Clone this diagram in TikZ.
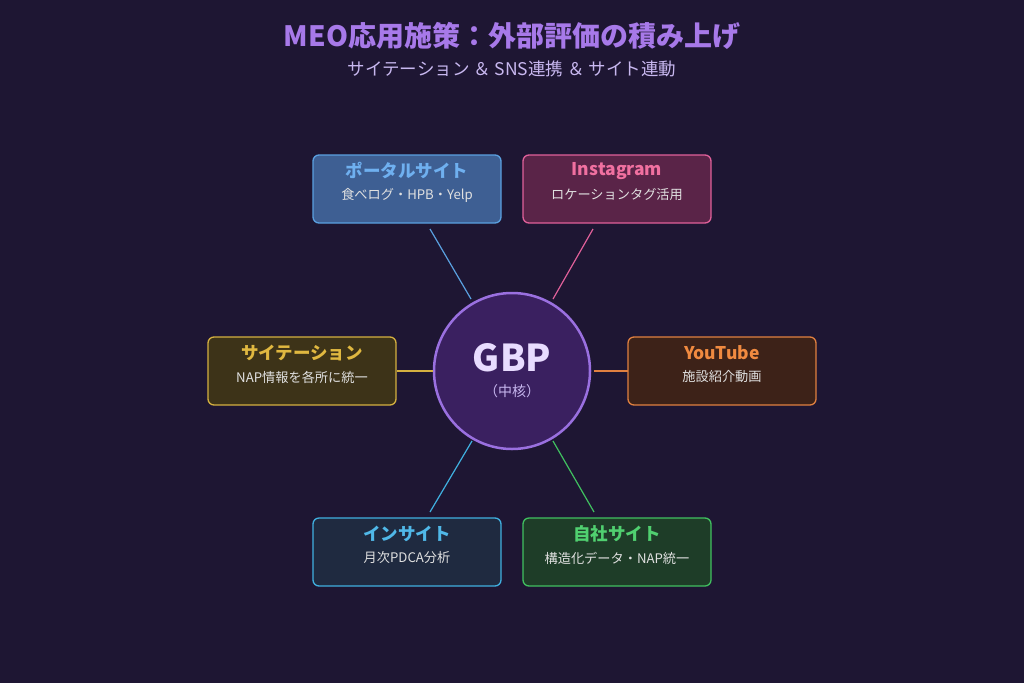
\documentclass[tikz,border=0pt]{standalone}
\usepackage{fontspec}
\setmainfont{Noto Sans CJK JP}
\definecolor{bg}{HTML}{1E1633}
\definecolor{tc}{HTML}{A779E9}\definecolor{sc}{HTML}{C8B8F0}
\definecolor{c1}{HTML}{5AA0E0}\definecolor{c2}{HTML}{E0609A}\definecolor{c3}{HTML}{D4B040}
\definecolor{c4}{HTML}{E08040}\definecolor{c5}{HTML}{40B0E0}\definecolor{c6}{HTML}{40C060}
\definecolor{f1}{HTML}{3E5F93}\definecolor{f2}{HTML}{5A2448}\definecolor{f3}{HTML}{3D3318}
\definecolor{f4}{HTML}{3D2218}\definecolor{f5}{HTML}{1F2A40}\definecolor{f6}{HTML}{1E3D28}
\definecolor{t1}{HTML}{6FB0F0}\definecolor{t2}{HTML}{F070A0}\definecolor{t3}{HTML}{E0B840}
\definecolor{t4}{HTML}{F08A40}\definecolor{t5}{HTML}{50B8E8}\definecolor{t6}{HTML}{50D070}
\definecolor{gd}{HTML}{9A70E0}\definecolor{gf}{HTML}{3A2060}\definecolor{gt}{HTML}{E8DCFF}
\begin{document}
\begin{tikzpicture}[x=1pt,y=-1pt,
  box/.style={draw, line width=1.3pt, rounded corners=6pt, minimum width=188pt, minimum height=68pt},
  ttl/.style={font=\bfseries\fontsize{17.5}{20}\selectfont},
  sub/.style={font=\fontsize{13.2}{15}\selectfont, text=white!88!black},
  ln/.style={line width=1.2pt}]
\fill[bg] (0,0) rectangle (1024,683);
\useasboundingbox (0,0) rectangle (1024,683);
\node[text=tc, font=\bfseries\fontsize{28}{32}\selectfont] (t) at (512,36) {MEO応用施策：外部評価の積み上げ};
\node[text=sc, font=\fontsize{17.5}{20}\selectfont] (s) at (512,69) {サイテーション ＆ SNS連携 ＆ サイト連動};
\node[box, draw=c1, fill=f1] (p) at (407,189) {};
\node[ttl,text=t1] (pt) at (407,171) {ポータルサイト};
\node[sub] (ps) at (407,195) {食べログ・HPB・Yelp};
\node[box, draw=c2, fill=f2] (i) at (617,189) {};
\node[ttl,text=t2] (it) at (617,171) {Instagram};
\node[sub] (is) at (617,195) {ロケーションタグ活用};
\node[box, draw=c3, fill=f3] (c) at (302,371) {};
\node[ttl,text=t3] (ct) at (302,353) {サイテーション};
\node[sub] (cs) at (302,377) {NAP情報を各所に統一};
\node[box, draw=c4, fill=f4] (y) at (722,371) {};
\node[ttl,text=t4] (yt) at (722,353) {YouTube};
\node[sub] (ys) at (722,377) {施設紹介動画};
\node[box, draw=c5, fill=f5] (n) at (407,552) {};
\node[ttl,text=t5] (nt) at (407,534) {インサイト};
\node[sub] (ns) at (407,558) {月次PDCA分析};
\node[box, draw=c6, fill=f6] (o) at (617,552) {};
\node[ttl,text=t6] (ot) at (617,534) {自社サイト};
\node[sub] (os) at (617,558) {構造化データ・NAP統一};
\node[circle, draw=gd, line width=2.5pt, fill=gf, minimum size=156pt] (g) at (512,371) {};
\node[text=gt, font=\bfseries\fontsize{37}{40}\selectfont] (gtx) at (512,358) {GBP};
\node[text=sc, font=\fontsize{14}{16}\selectfont] (gs) at (512,391) {（中核）};
\coordinate (a1) at (430,229); \coordinate (b1) at (471,299);
\coordinate (a2) at (593,229); \coordinate (b2) at (553,299);
\coordinate (a3) at (397,371); \coordinate (b3) at (433,371);
\coordinate (a4) at (628,371); \coordinate (b4) at (594,371);
\coordinate (a5) at (430,512); \coordinate (b5) at (472,441);
\coordinate (a6) at (594,512); \coordinate (b6) at (553,441);
\draw[ln,c1] (a1)--(b1); \draw[ln,c2] (a2)--(b2);
\draw[ln,c3] (a3)--(b3); \draw[ln,c4] (a4)--(b4);
\draw[ln,c5] (a5)--(b5); \draw[ln,c6] (a6)--(b6);
\end{tikzpicture}
\end{document}
